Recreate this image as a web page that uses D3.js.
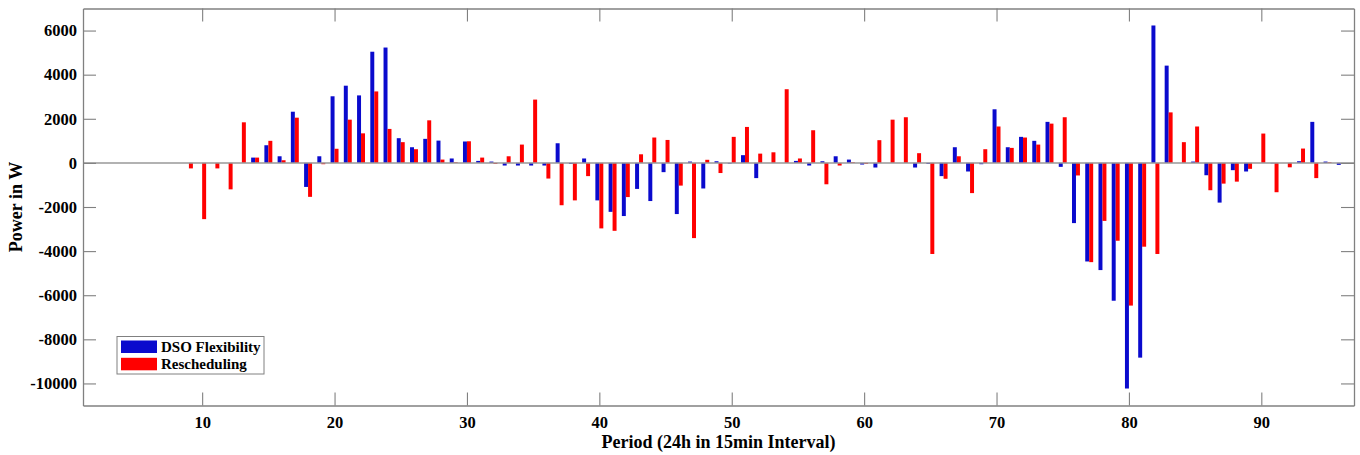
<!DOCTYPE html>
<html>
<head>
<meta charset="utf-8">
<script src="https://cdn.jsdelivr.net/npm/d3@7"></script>
<style>
  html, body { margin: 0; padding: 0; background: #fff; }
  svg { display: block; }
  text { font-family: "Liberation Serif", "Times New Roman", serif; font-weight: bold; fill: #000; }
</style>
</head>
<body>
<svg id="chart" width="1360" height="455"></svg>
<script>
// ---- data ----
const periods = d3.range(1, 97);
const dsoFlexibility = [
  0, 0, 0, 0, 0, 0, 0, 0, 0, 0,            // 1-10
  0, 0, 0, 240, 800, 300, 2320, -1090, 300, 3020, // 11-20
  3500, 3060, 5040, 5230, 1120, 710, 1090, 1010, 200, 970, // 21-30
  90, 60, -120, -120, -120, -120, 890, -45, 200, -1700, // 31-40
  -2220, -2410, -1180, -1730, -420, -2320, 60, -1160, 75, -30, // 41-50
  350, -690, 0, 0, 90, -120, 75, 300, 150, -75, // 51-60
  -210, 0, 0, -210, -45, -600, 710, -390, -60, 2430, // 61-70
  710, 1180, 1000, 1860, -180, -2730, -4470, -4860, -6250, -10230, // 71-80
  -8830, 6230, 4410, 0, 60, -560, -1800, -330, -390, 0, // 81-90
  -20, 0, 75, 1860, 60, -90 // 91-96
];
const rescheduling = [
  0, 0, 0, 0, 0, 0, 0, 0, -250, -2550,     // 1-10
  -250, -1200, 1840, 240, 1000, 120, 2050, -1540, -60, 640, // 11-20
  1960, 1340, 3240, 1540, 940, 620, 1930, 150, 30, 980, // 21-30
  240, -45, 300, 830, 2870, -710, -1920, -1700, -600, -2970, // 31-40
  -3080, -1550, 390, 1150, 1040, -1030, -3410, 140, -460, 1180, // 41-50
  1630, 420, 480, 3340, 200, 1480, -970, -120, 30, -45, // 51-60
  1030, 1960, 2070, 440, -4130, -720, 300, -1370, 620, 1650, // 61-70
  680, 1150, 830, 1780, 2070, -570, -4500, -2630, -3530, -6470, // 71-80
  -3800, -4130, 2290, 940, 1650, -1240, -940, -850, -270, 1330, // 81-90
  -1330, -200, 650, -690, 30, 0 // 91-96
];
const seriesNames = ["DSO Flexibility", "Rescheduling"];
const xTicks = [10, 20, 30, 40, 50, 60, 70, 80, 90];
const yTicks = [-10000, -8000, -6000, -4000, -2000, 0, 2000, 4000, 6000];
const xLabel = "Period (24h in 15min Interval)";
const yLabel = "Power in W";

// ---- layout ----
const svg = d3.select("#chart");
const L = 83, R = 1354, T = 8.5, B = 405.5;
const colors = ["#0a0acd", "#ff0000"];

const x = d3.scaleLinear().domain([1, 97]).range([L, R]);
const y = d3.scaleLinear().domain([-11000, 7000]).range([B, T]);
const barW = 0.3; // in period units per bar

const series = [dsoFlexibility, rescheduling];
series.forEach((vals, si) => {
  svg.append("g").selectAll("rect")
    .data(periods.map((p, i) => ({p, v: vals[i]})).filter(d => d.v !== 0))
    .join("rect")
    .attr("x", d => x(d.p + (si === 0 ? -barW : 0)))
    .attr("width", x(1 + barW) - x(1))
    .attr("y", d => y(Math.max(0, d.v)))
    .attr("height", d => Math.abs(y(d.v) - y(0)))
    .attr("fill", colors[si]);
});

// zero baseline
svg.append("line")
  .attr("x1", L).attr("x2", R)
  .attr("y1", y(0)).attr("y2", y(0))
  .attr("stroke", "#999").attr("stroke-width", 1.5);

// axes (inside ticks, box)
const axisColor = "#808080";
const tickLen = 13;
const fontSize = 16.5;
const fmt = d => String(d);

const gB = svg.append("g").attr("transform", `translate(0,${B})`)
  .call(d3.axisBottom(x).tickValues(xTicks).tickFormat(fmt).tickSizeInner(-tickLen).tickSizeOuter(0).tickPadding(11));
const gT = svg.append("g").attr("transform", `translate(0,${T})`)
  .call(d3.axisTop(x).tickValues(xTicks).tickSizeInner(-tickLen).tickSizeOuter(0).tickFormat(""));
const gL = svg.append("g").attr("transform", `translate(${L},0)`)
  .call(d3.axisLeft(y).tickValues(yTicks).tickFormat(fmt).tickSizeInner(-tickLen).tickSizeOuter(0).tickPadding(6));
const gR = svg.append("g").attr("transform", `translate(${R},0)`)
  .call(d3.axisRight(y).tickValues(yTicks).tickSizeInner(-tickLen).tickSizeOuter(0).tickFormat(""));

[gB, gT, gL, gR].forEach(g => {
  g.selectAll(".domain").attr("stroke", axisColor).attr("stroke-width", 1.3);
  g.selectAll(".tick line").attr("stroke", axisColor).attr("stroke-width", 1.1);
  g.selectAll(".tick text")
    .style("font-family", "'Liberation Serif', 'Times New Roman', serif")
    .style("font-weight", "bold").style("font-size", fontSize + "px").attr("fill", "#000");
});

// axis labels
svg.append("text")
  .attr("x", (L + R) / 2).attr("y", 448)
  .attr("text-anchor", "middle")
  .style("font-size", "18px")
  .text(xLabel);
svg.append("text")
  .attr("transform", `translate(22,${(T + B) / 2}) rotate(-90)`)
  .attr("text-anchor", "middle")
  .style("font-size", "18px")
  .text(yLabel);

// legend
const lg = svg.append("g");
lg.append("rect")
  .attr("x", 117).attr("y", 336.5).attr("width", 147).attr("height", 37.5)
  .attr("fill", "#fff").attr("stroke", axisColor).attr("stroke-width", 1);
seriesNames.forEach((name, i) => {
  lg.append("rect")
    .attr("x", 121).attr("y", 340.5 + i * 17.3)
    .attr("width", 36).attr("height", 12.5)
    .attr("fill", colors[i]);
  lg.append("text")
    .attr("x", 161).attr("y", 352 + i * 17.3)
    .style("font-size", "15px")
    .text(name);
});
</script>
</body>
</html>
